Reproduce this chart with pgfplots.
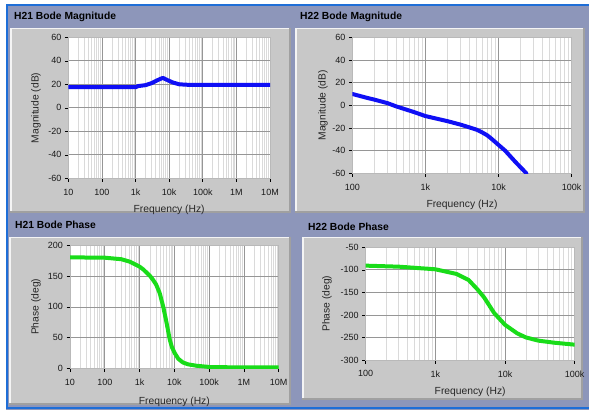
\documentclass[border=0pt]{standalone}
\usepackage{fontspec}
\setmainfont{Liberation Sans}
\usepackage{pgfplots}
\pgfplotsset{compat=1.18}
\definecolor{barbg}{RGB}{141,150,186}
\definecolor{panel}{RGB}{200,200,200}
\definecolor{paneldark}{RGB}{160,160,160}
\definecolor{edgeblue}{RGB}{30,110,215}
\definecolor{lvblue}{RGB}{15,15,245}
\definecolor{lvgreen}{RGB}{25,220,25}
\definecolor{majgrid}{RGB}{150,150,150}
\definecolor{mingrid}{RGB}{218,218,218}

\pgfplotsset{
  every axis/.append style={
    scale only axis,
    axis background/.style={fill=white},
    xmajorgrids, xminorgrids, ymajorgrids,
    major grid style={draw=majgrid, line width=0.7pt},
    minor grid style={draw=mingrid, line width=0.9pt},
    axis line style={draw=gray!55, line width=0.5pt},
    tick align=outside, xtick pos=left, ytick pos=left,
    major tick length=3.5pt, minor tick length=0pt,
    major tick style={black, line width=0.6pt},
    ticklabel style={font=\fontsize{9}{10}\selectfont, text=black!90},
    xticklabel style={yshift=-3.5pt},
    label style={font=\fontsize{10.3}{12}\selectfont, text=black!85},
  },
  every axis plot/.append style={line width=4pt, line join=round, line cap=round},
}
\pgfkeys{/pgf/number format/assume math mode=true}

\begin{document}
\begin{tikzpicture}[x=1pt,y=1pt]
\useasboundingbox (0,0) rectangle (589,410);
\fill[white] (0,0) rectangle (589,410);
\fill[barbg] (6,0) rectangle (589,406);
\draw[edgeblue, line width=2pt] (7,1) -- (7,405) -- (589,405);
\draw[edgeblue, line width=2pt] (7,2.5) -- (589,2.5);
% panels (pixel y -> 410 - y)
\fill[panel] (10,197) rectangle (291,382);
\fill[panel] (295,197) rectangle (585,382);
\fill[panel] (9,5) rectangle (291,173);
\fill[panel] (302,10) rectangle (583,173);
\draw[white!80!panel, line width=1.5pt] (10.75,197) -- (10.75,381.25) -- (291,381.25);
\draw[paneldark, line width=2pt] (10,198) -- (290,198) -- (290,382);
\draw[white!80!panel, line width=1.5pt] (295.75,197) -- (295.75,381.25) -- (585,381.25);
\draw[paneldark, line width=2pt] (295,198) -- (584,198) -- (584,382);
\draw[white!80!panel, line width=1.5pt] (9.75,5) -- (9.75,172.25) -- (291,172.25);
\draw[paneldark, line width=2pt] (9,6) -- (290,6) -- (290,173);
\draw[white!80!panel, line width=1.5pt] (302.75,10) -- (302.75,172.25) -- (583,172.25);
\draw[paneldark, line width=2pt] (302,11) -- (582,11) -- (582,173);
% titles
\node[anchor=west, font=\bfseries\fontsize{10.3}{12}\selectfont, inner sep=0pt] at (14,393) {H21 Bode Magnitude};
\node[anchor=west, font=\bfseries\fontsize{10.3}{12}\selectfont, inner sep=0pt] at (300,393) {H22 Bode Magnitude};
\node[anchor=west, font=\bfseries\fontsize{10.3}{12}\selectfont, inner sep=0pt] at (15,185) {H21 Bode Phase};
\node[anchor=west, font=\bfseries\fontsize{10.3}{12}\selectfont, inner sep=0pt] at (308,183) {H22 Bode Phase};

% H21 magnitude
\begin{axis}[xmode=log, at={(68.3pt,231.7pt)}, anchor=south west,
  width=201.7pt, height=141pt,
  xmin=10, xmax=1e7,
  xtick={10,100,1000,10000,100000,1000000,10000000},
  xticklabels={10,100,1k,10k,100k,1M,10M},
  minor xtick={20,30,40,50,60,70,80,90,200,300,400,500,600,700,800,900,
    2000,3000,4000,5000,6000,7000,8000,9000,
    20000,30000,40000,50000,60000,70000,80000,90000,
    2e5,3e5,4e5,5e5,6e5,7e5,8e5,9e5,2e6,3e6,4e6,5e6,6e6,7e6,8e6,9e6},
  ymin=-60, ymax=60, ytick={-60,-40,...,60},
  xlabel={Frequency (Hz)}, ylabel={Magnitude (dB)},
  xlabel style={at={(axis description cs:0.5,-0.225)}, anchor=center},
  ylabel style={at={(axis description cs:-0.16,0.5)}, anchor=center}]
\addplot[lvblue] coordinates {(10,17.5) (1000,17.5) (1200,18.5) (2000,19.3) (3000,21)
  (4500,23.5) (6500,25.5) (9000,23.5) (13000,21.5) (20000,20) (40000,19.5) (1e7,19.5)};
\end{axis}

% H22 magnitude
\begin{axis}[xmode=log, at={(352.3pt,236.7pt)}, anchor=south west,
  width=219.4pt, height=136pt,
  xmin=100, xmax=1e5,
  xtick={100,1000,10000,100000},
  xticklabels={100,1k,10k,100k},
  minor xtick={200,300,400,500,600,700,800,900,
    2000,3000,4000,5000,6000,7000,8000,9000,
    20000,30000,40000,50000,60000,70000,80000,90000},
  ymin=-60, ymax=60, ytick={-60,-40,...,60},
  xlabel={Frequency (Hz)}, ylabel={Magnitude (dB)},
  xlabel style={at={(axis description cs:0.5,-0.233)}, anchor=center},
  ylabel style={at={(axis description cs:-0.134,0.5)}, anchor=center}]
\addplot[lvblue] coordinates {(100,10) (150,7) (200,5) (300,2) (400,-1) (700,-6)
  (1000,-9.5) (2000,-14) (3000,-17) (4000,-19.5) (5000,-21.5) (6000,-24) (7000,-26.5)
  (8000,-29.5) (10000,-35) (12300,-40) (17000,-50) (24000,-60)};
\end{axis}

% H21 phase
\begin{axis}[xmode=log, at={(70pt,41.3pt)}, anchor=south west,
  width=208.7pt, height=123.7pt,
  xmin=10, xmax=1e7,
  xtick={10,100,1000,10000,100000,1000000,10000000},
  xticklabels={10,100,1k,10k,100k,1M,10M},
  minor xtick={20,30,40,50,60,70,80,90,200,300,400,500,600,700,800,900,
    2000,3000,4000,5000,6000,7000,8000,9000,
    20000,30000,40000,50000,60000,70000,80000,90000,
    2e5,3e5,4e5,5e5,6e5,7e5,8e5,9e5,2e6,3e6,4e6,5e6,6e6,7e6,8e6,9e6},
  ymin=0, ymax=200, ytick={0,50,...,200},
  xlabel={Frequency (Hz)}, ylabel={Phase (deg)},
  xlabel style={at={(axis description cs:0.5,-0.269)}, anchor=center},
  ylabel style={at={(axis description cs:-0.163,0.5)}, anchor=center}]
\addplot[lvgreen] coordinates {(10,180) (100,179.5) (300,177) (525,173) (1000,165)
  (1260,160.8) (2000,150) (2450,143.5) (3000,136) (3800,122) (4800,100) (6000,73.7)
  (7400,46.8) (8500,35) (10300,25) (13000,16) (17700,10) (25000,7) (43000,4.8)
  (105000,2.7) (1e6,2) (1e7,2)};
\end{axis}

% H22 phase
\begin{axis}[xmode=log, at={(365.7pt,50pt)}, anchor=south west,
  width=209pt, height=112.7pt,
  xmin=100, xmax=1e5,
  xtick={100,1000,10000,100000},
  xticklabels={100,1k,10k,100k},
  minor xtick={200,300,400,500,600,700,800,900,
    2000,3000,4000,5000,6000,7000,8000,9000,
    20000,30000,40000,50000,60000,70000,80000,90000},
  ymin=-300, ymax=-50, ytick={-300,-250,...,-50},
  xlabel={Frequency (Hz)}, ylabel={Phase (deg)},
  xlabel style={at={(axis description cs:0.5,-0.284)}, anchor=center},
  ylabel style={at={(axis description cs:-0.185,0.5)}, anchor=center}]
\addplot[lvgreen] coordinates {(100,-90.7) (300,-93) (1000,-98.8) (2000,-109)
  (3000,-122.5) (4000,-143) (5000,-161) (7000,-196) (10000,-222) (15000,-241)
  (20000,-250) (30000,-257) (50000,-261.5) (100000,-266)};
\end{axis}
\end{tikzpicture}
\end{document}
